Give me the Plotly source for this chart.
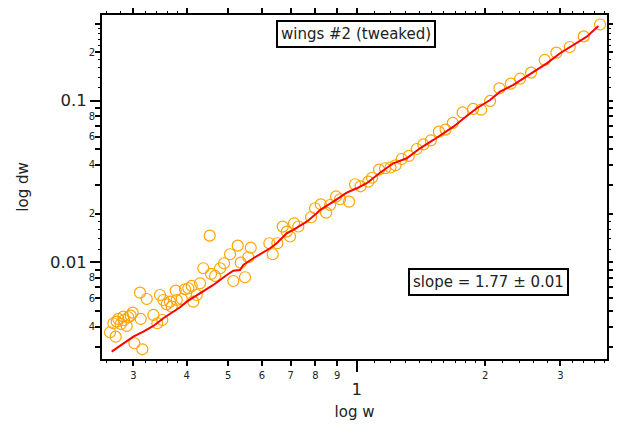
import plotly.graph_objects as go
import math

# ---- data ----
w_points = [0.2644, 0.2726, 0.2692, 0.2765, 0.2741, 0.2801, 0.2840, 0.2851, 0.2893, 0.2918,
            0.2956, 0.2988, 0.3015, 0.3108, 0.3120, 0.3147, 0.3223, 0.3340, 0.3412, 0.3462,
            0.3505, 0.3525, 0.3589, 0.3654, 0.3687, 0.3768, 0.3789, 0.3892, 0.3962, 0.4033,
            0.4108, 0.4143, 0.4220, 0.4295, 0.4372, 0.4526, 0.4558, 0.4657, 0.4785, 0.4889,
            0.5050, 0.5140, 0.5263, 0.5349, 0.5475, 0.5573, 0.5647, 0.6241, 0.6357, 0.6517,
            0.6709, 0.6856, 0.6980, 0.7133, 0.7299, 0.7816, 0.7985, 0.8237, 0.8475, 0.8661,
            0.8944, 0.9139, 0.9594, 0.9909, 1.0207, 1.0645, 1.0860, 1.1277, 1.1649, 1.1998,
            1.2327, 1.2747, 1.3243, 1.3820, 1.4322, 1.4906, 1.5573, 1.6144, 1.6785, 1.7691,
            1.8726, 1.9550, 2.0521, 2.1577, 2.2951, 2.4126, 2.5592, 2.7560, 2.9344, 3.1535,
            3.4006, 3.7136]
dw_points = [0.003688, 0.003464, 0.004193, 0.004458, 0.00429, 0.004151, 0.004607, 0.004394, 0.004035, 0.004568,
             0.004673, 0.004877, 0.003153, 0.006484, 0.004458, 0.002894, 0.005927, 0.00472, 0.004193, 0.006274,
             0.004394, 0.005843, 0.005496, 0.005703, 0.005311, 0.006672, 0.005843, 0.005927, 0.006806, 0.006904,
             0.007134, 0.005703, 0.006274, 0.007413, 0.009181, 0.01461, 0.008465, 0.008227, 0.009181, 0.009858,
             0.01121, 0.00766, 0.01267, 0.009943, 0.008077, 0.01074, 0.01231, 0.01311, 0.01121, 0.01311,
             0.01661, 0.01547, 0.01444, 0.01743, 0.01665, 0.01899, 0.02159, 0.02285, 0.02027, 0.02262,
             0.02554, 0.02454, 0.02371, 0.03039, 0.02953, 0.03153, 0.03334, 0.03746, 0.03817, 0.0386,
             0.03983, 0.04357, 0.04548, 0.05024, 0.05358, 0.05672, 0.06429, 0.06624, 0.07278, 0.08453,
             0.08885, 0.08795, 0.0996, 0.1193, 0.1274, 0.1368, 0.1491, 0.1786, 0.1982, 0.2149,
             0.2500, 0.2961]

w_line = [0.2668, 0.2998, 0.3164, 0.3340, 0.3525, 0.3856, 0.3999, 0.4295, 0.4615, 0.4962,
          0.5140, 0.5329, 0.5425, 0.5724, 0.6266, 0.6495, 0.6856, 0.7105, 0.7636, 0.8059,
          0.8207, 0.8815, 0.9475, 1.0000, 1.0554, 1.1339, 1.2181, 1.3096, 1.4067, 1.5116,
          1.5952, 1.6839, 1.8095, 1.9099, 2.0521, 2.1658, 2.3269, 2.5919, 2.7861, 2.9926,
          3.2163, 3.4567, 3.6798]
dw_line = [0.002798, 0.003464, 0.00372, 0.004035, 0.004503, 0.005266, 0.005703, 0.006429, 0.007236, 0.008346,
           0.008872, 0.008962, 0.009623, 0.01059, 0.01221, 0.01311, 0.01512, 0.01585, 0.01783, 0.0201,
           0.02106, 0.02371, 0.02696, 0.0287, 0.03083, 0.03584, 0.04099, 0.04401, 0.05074, 0.05713,
           0.06284, 0.06904, 0.08041, 0.08974, 0.101, 0.1137, 0.1251, 0.1512, 0.1703, 0.1965,
           0.2212, 0.2489, 0.2899]

x_range = [0.2532, 3.855]
y_range = [0.00252, 0.339]

x_minor_vals = [0.3, 0.4, 0.5, 0.6, 0.7, 0.8, 0.9, 2, 3]
x_minor_text = ["3", "4", "5", "6", "7", "8", "9", "2", "3"]
x_major_vals = [1]
x_major_text = ["1"]
x_tiny = [0.26, 0.28, 0.32, 0.34, 0.36, 0.38, 1.1, 1.2, 1.3, 1.4, 1.5, 1.6, 1.7, 1.8, 1.9,
          2.2, 2.4, 2.6, 2.8, 3.2, 3.4, 3.6, 3.8]

y_minor_vals = [0.003, 0.004, 0.005, 0.006, 0.007, 0.008, 0.009,
                0.02, 0.03, 0.04, 0.05, 0.06, 0.07, 0.08, 0.09, 0.2, 0.3]
y_minor_text = ["", "4", "", "6", "", "8", "",
                "2", "", "4", "", "6", "", "8", "", "2", ""]
y_major_vals = [0.01, 0.1]
y_major_text = ["0.01", "0.1"]
y_tiny = [0.012, 0.014, 0.016, 0.018, 0.12, 0.14, 0.16, 0.18, 0.22, 0.24, 0.26, 0.28]

title_text = "wings #2 (tweaked)"
slope_text = "slope = 1.77 ± 0.01"

FONT = "DejaVu Sans"
xr = [math.log10(v) for v in x_range]
yr = [math.log10(v) for v in y_range]

fig = go.Figure()
fig.add_trace(go.Scatter(x=w_points, y=dw_points, mode="markers",
                         marker=dict(symbol="circle-open", size=11, color="#FFA500",
                                     line=dict(width=1.2, color="#FFA500")),
                         showlegend=False, hoverinfo="skip"))
fig.add_trace(go.Scatter(x=w_line, y=dw_line, mode="lines",
                         line=dict(color="#FF0000", width=2),
                         showlegend=False, hoverinfo="skip"))
fig.add_trace(go.Scatter(x=[], y=[], xaxis="x2", yaxis="y2", showlegend=False, hoverinfo="skip"))

common = dict(type="log", showgrid=False, zeroline=False, showline=True, linecolor="black",
              linewidth=2, mirror="ticks", ticks="outside", tickcolor="black", tickwidth=1.5,
              automargin=False)

# the page body adds an 8px offset, so the figure is 8px smaller and margins compensate
fig.update_layout(
    template="none",
    width=613, height=416,
    margin=dict(l=94, r=14, t=7, b=65, autoexpand=False),
    paper_bgcolor="white", plot_bgcolor="white",
    font=dict(family=FONT, color="black"),
    xaxis=dict(**common, range=xr, tickmode="array", tickvals=x_minor_vals, ticktext=x_minor_text,
               ticklen=5, ticklabelstandoff=1, tickfont=dict(size=10, family=FONT, color="#222"),
               minor=dict(tickmode="array", tickvals=x_tiny, ticklen=2, ticks="outside",
                          tickcolor="black", tickwidth=1),
               title=dict(text="log w", font=dict(size=15, family=FONT, color="#222"), standoff=26)),
    yaxis=dict(**common, range=yr, tickmode="array", tickvals=y_minor_vals, ticktext=y_minor_text,
               ticklen=5, ticklabelstandoff=-2, tickfont=dict(size=10, family=FONT, color="#222"),
               minor=dict(tickmode="array", tickvals=y_tiny, ticklen=2, ticks="outside",
                          tickcolor="black", tickwidth=1),
               title=dict(text="log dw", font=dict(size=15, family=FONT, color="#222"), standoff=56)),
    xaxis2=dict(**common, range=xr, overlaying="x", side="bottom", anchor="y",
                tickmode="array", tickvals=x_major_vals, ticktext=x_major_text,
                ticklen=11, ticklabelstandoff=3, tickfont=dict(size=16.5, family=FONT, color="#222")),
    yaxis2=dict(**common, range=yr, overlaying="y", side="left", anchor="x",
                tickmode="array", tickvals=y_major_vals, ticktext=y_major_text,
                ticklen=10, tickfont=dict(size=16.5, family=FONT, color="#222")),
    annotations=[
        dict(text=title_text, xref="paper", yref="paper", x=0.502, y=0.9448,
             xanchor="center", yanchor="middle", showarrow=False,
             font=dict(size=15, family=FONT, color="#222"),
             bordercolor="black", borderwidth=2, borderpad=3, bgcolor="white"),
        dict(text=slope_text, xref="paper", yref="paper", x=0.766, y=0.2238,
             xanchor="center", yanchor="middle", showarrow=False,
             font=dict(size=15, family=FONT, color="#222"),
             bordercolor="black", borderwidth=2, borderpad=3, bgcolor="white"),
    ],
)

fig.write_html("out.html")
